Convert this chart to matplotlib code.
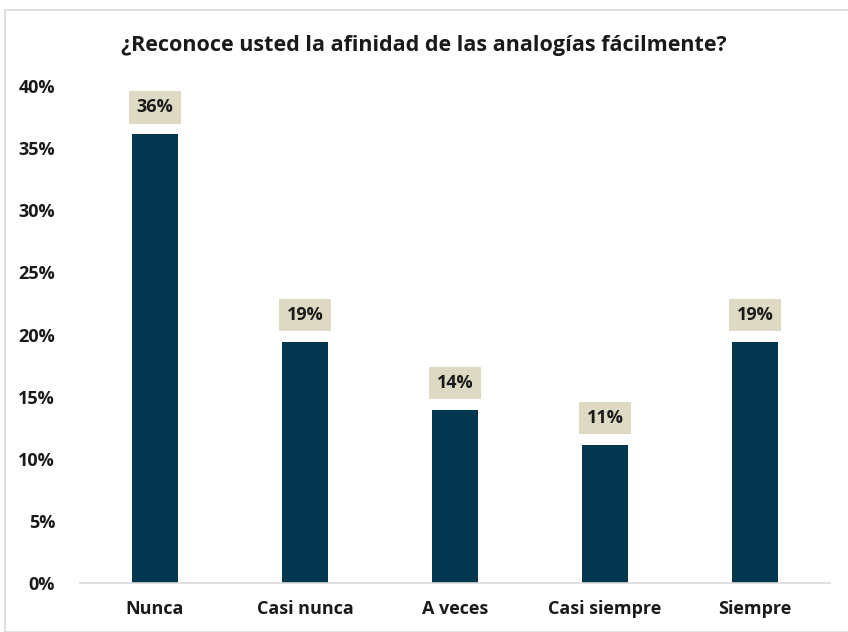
import matplotlib.pyplot as plt
from matplotlib.patches import Rectangle

categories = ['Nunca', 'Casi nunca', 'A veces', 'Casi siempre', 'Siempre']
values = [0.361, 0.194, 0.139, 0.111, 0.194]
labels = ['36%', '19%', '14%', '11%', '19%']
yticks = [0, 0.05, 0.10, 0.15, 0.20, 0.25, 0.30, 0.35, 0.40]
ytick_labels = ['0%', '5%', '10%', '15%', '20%', '25%', '30%', '35%', '40%']

plt.rcParams['font.family'] = ['Open Sans', 'DejaVu Sans']

fig = plt.figure(figsize=(8.48, 6.32), dpi=100)
ax = fig.add_axes([80 / 848, 1 - 583 / 632, 750 / 848, (583 - 86) / 632])

# marco gris claro alrededor del grafico
fig.patches.append(Rectangle((5 / 848, 0.0), 1.0, 1 - 10 / 632, transform=fig.transFigure,
                             fill=False, edgecolor='#D9D9D9', linewidth=1.2))

x = range(len(categories))
ax.bar(x, values, width=0.31, color='#03364F')

for xi, v, lab in zip(x, values, labels):
    ax.text(xi, v + 0.0145, lab, ha='center', va='bottom', fontsize=13, fontweight='bold',
            color='#1A1A1A',
            bbox=dict(boxstyle='square,pad=0.4', facecolor='#DDD9C3', edgecolor='none'))

ax.set_xlim(-0.5, 4.5)
ax.set_ylim(0, 0.40)
ax.set_yticks(yticks)
ax.set_yticklabels(ytick_labels)
ax.set_xticks(list(x))
ax.set_xticklabels(categories)
ax.tick_params(axis='both', length=0, labelsize=13)
ax.tick_params(axis='x', pad=12)
ax.tick_params(axis='y', pad=18)
for t in ax.get_xticklabels() + ax.get_yticklabels():
    t.set_fontweight('bold')
    t.set_color('#1A1A1A')

for s in ['top', 'right', 'left']:
    ax.spines[s].set_visible(False)
ax.spines['bottom'].set_color('#D9D9D9')
ax.spines['bottom'].set_linewidth(1.2)

fig.text(0.5, 1 - 45 / 632, '¿Reconoce usted la afinidad de las analogías fácilmente?',
         ha='center', va='center', fontsize=15.5, fontweight='bold', color='#1A1A1A')

fig.savefig('out.png', dpi=100)
